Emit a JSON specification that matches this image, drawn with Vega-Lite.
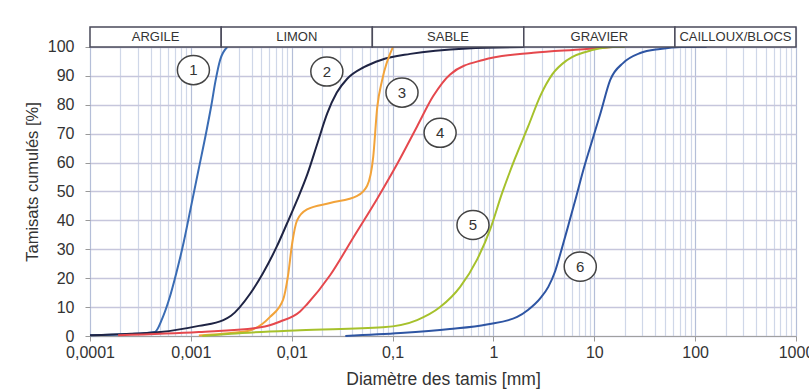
{
  "$schema": "https://vega.github.io/schema/vega-lite/v6.json",
  "width": 706,
  "height": 309,
  "autosize": {"type": "none"},
  "padding": {"left": 90, "top": 27, "right": 13, "bottom": 56},
  "background": "white",
  "config": {
    "view": {"stroke": null},
    "font": "Liberation Sans",
    "axisX": {
      "values": [0.0001,0.0002,0.0003,0.0004,0.0005,0.0006,0.0007,0.0008,0.0009,0.001,0.002,0.003,0.004,0.005,0.006,0.007,0.008,0.009,0.01,0.02,0.03,0.04,0.05,0.06,0.07,0.08,0.09,0.1,0.2,0.3,0.4,0.5,0.6,0.7,0.8,0.9,1,2,3,4,5,6,7,8,9,10,20,30,40,50,60,70,80,90,100,200,300,400,500,600,700,800,900,1000],
      "grid": true,
      "gridColor": {"condition": {"test": "abs(log(datum.value)/LN10 - round(log(datum.value)/LN10)) < 0.001", "value": "#b4bed8"}, "value": "#cfd7e8"},
      "gridWidth": 1.2,
      "ticks": true,
      "tickSize": 5,
      "tickColor": {"condition": {"test": "abs(log(datum.value)/LN10 - round(log(datum.value)/LN10)) < 0.001", "value": "#999999"}, "value": "rgba(0,0,0,0)"},
      "labelExpr": "abs(log(datum.value)/LN10 - round(log(datum.value)/LN10)) > 0.001 ? '' : replace('' + datum.value, '.', ',')",
      "labelOverlap": false,
      "labelFlush": false,
      "labelFontSize": 16,
      "labelColor": "#333333",
      "labelPadding": 3,
      "domainColor": "#a0a0a0",
      "titleFontSize": 17.5,
      "titleFontWeight": "normal",
      "titleColor": "#333333",
      "titlePadding": 10
    },
    "axisY": {
      "values": [0, 10, 20, 30, 40, 50, 60, 70, 80, 90, 100],
      "grid": true,
      "gridColor": "#c6c6dc",
      "gridWidth": 1.5,
      "domain": false,
      "tickSize": 5,
      "tickColor": "#999999",
      "labelOverlap": false,
      "labelFontSize": 16,
      "labelColor": "#333333",
      "labelPadding": 11,
      "titleFontSize": 16.5,
      "titleFontWeight": "normal",
      "titleColor": "#333333",
      "titlePadding": 7
    }
  },
  "datasets": {
    "curves": [
      {"c": "1", "d": 0.0001, "p": 0.3}, {"c": "1", "d": 0.00025, "p": 0.7}, {"c": "1", "d": 0.00044, "p": 1.4}, {"c": "1", "d": 0.00052, "p": 6}, {"c": "1", "d": 0.0006, "p": 12}, {"c": "1", "d": 0.00072, "p": 22}, {"c": "1", "d": 0.00085, "p": 32.5}, {"c": "1", "d": 0.001, "p": 44.5}, {"c": "1", "d": 0.0012, "p": 58}, {"c": "1", "d": 0.00143, "p": 71}, {"c": "1", "d": 0.0016, "p": 80}, {"c": "1", "d": 0.00175, "p": 88}, {"c": "1", "d": 0.00195, "p": 95.5}, {"c": "1", "d": 0.0023, "p": 100},
      {"c": "2", "d": 0.0001, "p": 0.3}, {"c": "2", "d": 0.0005, "p": 1.4}, {"c": "2", "d": 0.0012, "p": 3.5}, {"c": "2", "d": 0.0021, "p": 5.5}, {"c": "2", "d": 0.0025, "p": 7}, {"c": "2", "d": 0.0039, "p": 14.8}, {"c": "2", "d": 0.0052, "p": 21.8}, {"c": "2", "d": 0.0071, "p": 30.9}, {"c": "2", "d": 0.009, "p": 39}, {"c": "2", "d": 0.0113, "p": 47}, {"c": "2", "d": 0.0143, "p": 56}, {"c": "2", "d": 0.018, "p": 66.7}, {"c": "2", "d": 0.0225, "p": 77}, {"c": "2", "d": 0.028, "p": 84.2}, {"c": "2", "d": 0.0355, "p": 89}, {"c": "2", "d": 0.052, "p": 93}, {"c": "2", "d": 0.077, "p": 95.5}, {"c": "2", "d": 0.15, "p": 97.6}, {"c": "2", "d": 0.55, "p": 99.5}, {"c": "2", "d": 2, "p": 100},
      {"c": "3", "d": 0.0012, "p": 0.2}, {"c": "3", "d": 0.0025, "p": 1}, {"c": "3", "d": 0.0039, "p": 2}, {"c": "3", "d": 0.0061, "p": 6.6}, {"c": "3", "d": 0.0082, "p": 12.5}, {"c": "3", "d": 0.0092, "p": 21}, {"c": "3", "d": 0.0101, "p": 32}, {"c": "3", "d": 0.0113, "p": 40}, {"c": "3", "d": 0.0142, "p": 43.8}, {"c": "3", "d": 0.024, "p": 46}, {"c": "3", "d": 0.0446, "p": 48.5}, {"c": "3", "d": 0.056, "p": 52}, {"c": "3", "d": 0.0643, "p": 62}, {"c": "3", "d": 0.0704, "p": 79}, {"c": "3", "d": 0.0789, "p": 88.6}, {"c": "3", "d": 0.101, "p": 100},
      {"c": "4", "d": 0.00019, "p": 0.3}, {"c": "4", "d": 0.0012, "p": 1.4}, {"c": "4", "d": 0.0049, "p": 3}, {"c": "4", "d": 0.0077, "p": 5}, {"c": "4", "d": 0.0121, "p": 8.5}, {"c": "4", "d": 0.0142, "p": 11}, {"c": "4", "d": 0.024, "p": 21}, {"c": "4", "d": 0.0407, "p": 34}, {"c": "4", "d": 0.0704, "p": 47.5}, {"c": "4", "d": 0.111, "p": 59.5}, {"c": "4", "d": 0.175, "p": 72.5}, {"c": "4", "d": 0.253, "p": 83}, {"c": "4", "d": 0.372, "p": 90.5}, {"c": "4", "d": 0.79, "p": 95.5}, {"c": "4", "d": 2.48, "p": 98}, {"c": "4", "d": 7.8, "p": 99.2}, {"c": "4", "d": 15, "p": 100},
      {"c": "5", "d": 0.0013, "p": 0}, {"c": "5", "d": 0.0025, "p": 0.8}, {"c": "5", "d": 0.0121, "p": 2}, {"c": "5", "d": 0.08, "p": 3}, {"c": "5", "d": 0.175, "p": 5.5}, {"c": "5", "d": 0.296, "p": 10}, {"c": "5", "d": 0.468, "p": 17}, {"c": "5", "d": 0.69, "p": 26.5}, {"c": "5", "d": 0.93, "p": 37}, {"c": "5", "d": 1.22, "p": 49.5}, {"c": "5", "d": 1.64, "p": 61.5}, {"c": "5", "d": 2.21, "p": 72.5}, {"c": "5", "d": 2.91, "p": 83}, {"c": "5", "d": 3.83, "p": 90.5}, {"c": "5", "d": 5.4, "p": 95.5}, {"c": "5", "d": 9.8, "p": 99}, {"c": "5", "d": 15.4, "p": 100}, {"c": "5", "d": 20, "p": 100},
      {"c": "6", "d": 0.034, "p": 0}, {"c": "6", "d": 0.12, "p": 1}, {"c": "6", "d": 0.37, "p": 2.4}, {"c": "6", "d": 0.86, "p": 4}, {"c": "6", "d": 1.72, "p": 6.6}, {"c": "6", "d": 2.2, "p": 9}, {"c": "6", "d": 2.91, "p": 13}, {"c": "6", "d": 3.5, "p": 17}, {"c": "6", "d": 4.1, "p": 22.5}, {"c": "6", "d": 4.7, "p": 29.5}, {"c": "6", "d": 5.5, "p": 38}, {"c": "6", "d": 6.6, "p": 48}, {"c": "6", "d": 7.8, "p": 57.5}, {"c": "6", "d": 9.13, "p": 65.5}, {"c": "6", "d": 11.5, "p": 77}, {"c": "6", "d": 14.4, "p": 88.6}, {"c": "6", "d": 19.4, "p": 94.5}, {"c": "6", "d": 28.6, "p": 97.9}, {"c": "6", "d": 45, "p": 99.3}, {"c": "6", "d": 71, "p": 100}, {"c": "6", "d": 130, "p": 100}
    ],
    "bands": [
      {"name": "ARGILE", "lo": 0.0001, "hi": 0.002},
      {"name": "LIMON", "lo": 0.002, "hi": 0.063},
      {"name": "SABLE", "lo": 0.063, "hi": 2},
      {"name": "GRAVIER", "lo": 2, "hi": 63},
      {"name": "CAILLOUX/BLOCS", "lo": 63, "hi": 1000}
    ],
    "labels": [
      {"n": "1", "d": 0.00106, "p": 92},
      {"n": "2", "d": 0.0223, "p": 91.5},
      {"n": "3", "d": 0.124, "p": 84.2},
      {"n": "4", "d": 0.296, "p": 70.3},
      {"n": "5", "d": 0.627, "p": 38.4},
      {"n": "6", "d": 7.26, "p": 24}
    ]
  },
  "layer": [
    {
      "data": {"name": "curves"},
      "mark": {"type": "line", "interpolate": "monotone", "strokeWidth": 2},
      "encoding": {
        "x": {
          "field": "d", "type": "quantitative",
          "scale": {"type": "log", "domain": [0.0001, 1000], "nice": false},
          "axis": {"title": "Diamètre des tamis [mm]"}
        },
        "y": {
          "field": "p", "type": "quantitative",
          "scale": {"domain": [0, 106.9], "nice": false, "zero": false},
          "axis": {"title": "Tamisats cumulés [%]"}
        },
        "color": {
          "field": "c", "type": "nominal", "legend": null,
          "scale": {"domain": ["1", "2", "3", "4", "5", "6"], "range": ["#3a6cb4", "#1f2444", "#f2a33a", "#e5484d", "#a6c12c", "#2e55a3"]}
        }
      }
    },
    {
      "data": {"name": "bands"},
      "mark": {"type": "rect", "fill": "white", "stroke": "#4a4a5a", "strokeWidth": 1.5},
      "encoding": {
        "x": {"field": "lo", "type": "quantitative", "axis": {"title": "Diamètre des tamis [mm]"}},
        "x2": {"field": "hi"},
        "y": {"datum": 100, "type": "quantitative", "axis": {"title": "Tamisats cumulés [%]"}},
        "y2": {"datum": 106.9}
      }
    },
    {
      "data": {"name": "bands"},
      "transform": [{"calculate": "sqrt(datum.lo * datum.hi)", "as": "mid"}],
      "mark": {"type": "text", "fontSize": 13, "color": "#333333", "baseline": "middle", "align": "center"},
      "encoding": {
        "x": {"field": "mid", "type": "quantitative", "axis": {"title": "Diamètre des tamis [mm]"}},
        "y": {"datum": 103.45, "type": "quantitative", "axis": {"title": "Tamisats cumulés [%]"}},
        "text": {"field": "name"}
      }
    },
    {
      "data": {"name": "labels"},
      "mark": {"type": "point", "shape": "M -1.1 0 A 1.1 1 0 1 1 1.1 0 A 1.1 1 0 1 1 -1.1 0 Z", "size": 850, "filled": true, "fill": "white", "stroke": "#444444", "strokeWidth": 1.5, "opacity": 1},
      "encoding": {
        "x": {"field": "d", "type": "quantitative", "axis": {"title": "Diamètre des tamis [mm]"}},
        "y": {"field": "p", "type": "quantitative", "axis": {"title": "Tamisats cumulés [%]"}}
      }
    },
    {
      "data": {"name": "labels"},
      "mark": {"type": "text", "fontSize": 15, "color": "#333333", "baseline": "middle", "align": "center"},
      "encoding": {
        "x": {"field": "d", "type": "quantitative", "axis": {"title": "Diamètre des tamis [mm]"}},
        "y": {"field": "p", "type": "quantitative", "axis": {"title": "Tamisats cumulés [%]"}},
        "text": {"field": "n"}
      }
    }
  ]
}
